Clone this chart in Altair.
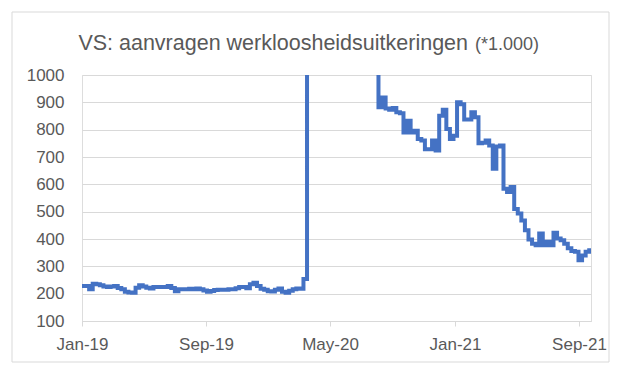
import altair as alt
import pandas as pd

# Weekly values (*1.000), starting first week of Jan 2019
values = [
    228, 228, 216, 236, 234, 231, 226, 224, 226, 228, 221, 216, 207, 204, 203, 222,
    231, 226, 222, 219, 224, 224, 224, 224, 228, 221, 209, 216, 216, 216, 218,
    216, 219, 216, 212, 207, 210, 213, 214, 214, 214, 216, 216, 220, 224, 224, 220,
    234, 240, 228, 218, 214, 209, 208, 214, 219, 207, 203, 211, 216, 219, 218, 254,
    3307, 6867, 6615, 5237, 4442, 3867, 3176, 2687, 2446, 2123, 1897, 1566, 1508,
    1427, 1482, 1416, 1307, 1435, 1191, 1104,
    882, 918, 877, 873, 879, 864, 860, 790, 833, 790, 796, 766, 760, 728, 728, 760,
    724, 851, 873, 802, 766, 778, 900, 893, 837, 837, 864, 845,
    750, 752, 760, 742, 657, 738, 742, 584, 572, 590, 510, 493, 468, 432, 398, 383,
    377, 420, 377, 390, 377, 423, 402, 395, 383, 366, 356, 353, 322, 340, 353, 366,
]
first_week = "2019-01-01"
dates = pd.date_range(first_week, periods=len(values), freq="7D").strftime("%Y-%m-%dT00:00:00")

y_ticks = [100, 200, 300, 400, 500, 600, 700, 800, 900, 1000]
x_ticks = [(2019, 1), (2019, 9), (2020, 5), (2021, 1), (2021, 9)]
title_main = "VS: aanvragen werkloosheidsuitkeringen"
title_unit = "(*1.000)"

df = pd.DataFrame({"datum": dates, "aanvragen": values})

FONT = "Liberation Sans"
GREY = "#595959"
GRID = "#d9d9d9"

line = alt.Chart(df).mark_line(
    color="#4472C4", strokeWidth=4, interpolate="step-after", clip=True
).encode(
    x=alt.X(
        "datum:T",
        scale=alt.Scale(domain=[alt.DateTime(year=2019, month=1, date=1),
                                alt.DateTime(year=2021, month=9, date=24, hours=12)]),
        axis=alt.Axis(
            values=[alt.DateTime(year=y, month=m, date=1) for y, m in x_ticks],
            format="%b-%y", title=None, grid=False,
            domainColor=GRID, tickColor=GRID, tickSize=5,
            labelFontSize=17, labelColor=GREY, labelFont=FONT, labelPadding=10,
            labelFlush=False, labelOverlap=False,
        ),
    ),
    y=alt.Y(
        "aanvragen:Q",
        scale=alt.Scale(domain=[100, 1000], nice=False, zero=False),
        axis=alt.Axis(
            values=y_ticks, format="d", title=None, domain=False, ticks=False,
            gridColor=GRID, gridWidth=1,
            labelFontSize=17, labelColor=GREY, labelFont=FONT, labelPadding=18,
            labelOverlap=False,
        ),
    ),
)

frame = alt.Chart(pd.DataFrame({"k": [0]})).mark_rect(
    filled=False, stroke=GRID, strokeWidth=1
).encode(x=alt.value(-70), x2=alt.value(527), y=alt.value(-63), y2=alt.value(287))

t_main = alt.Chart(pd.DataFrame({"t": [title_main]})).mark_text(
    align="right", baseline="alphabetic", fontSize=21.5, font=FONT, color=GREY
).encode(text="t:N", x=alt.value(386), y=alt.value(-25))

t_unit = alt.Chart(pd.DataFrame({"t": [title_unit]})).mark_text(
    align="left", baseline="alphabetic", fontSize=18, font=FONT, color=GREY
).encode(text="t:N", x=alt.value(393), y=alt.value(-25))

chart = alt.layer(frame, line, t_main, t_unit).properties(
    width=509, height=246,
    autosize=alt.AutoSizeParams(type="none"),
    padding={"left": 74, "top": 67, "right": 26, "bottom": 42},
).configure_view(stroke=None).configure(background="white")

chart.save("out.html", embed_options={"renderer": "svg", "actions": False})
